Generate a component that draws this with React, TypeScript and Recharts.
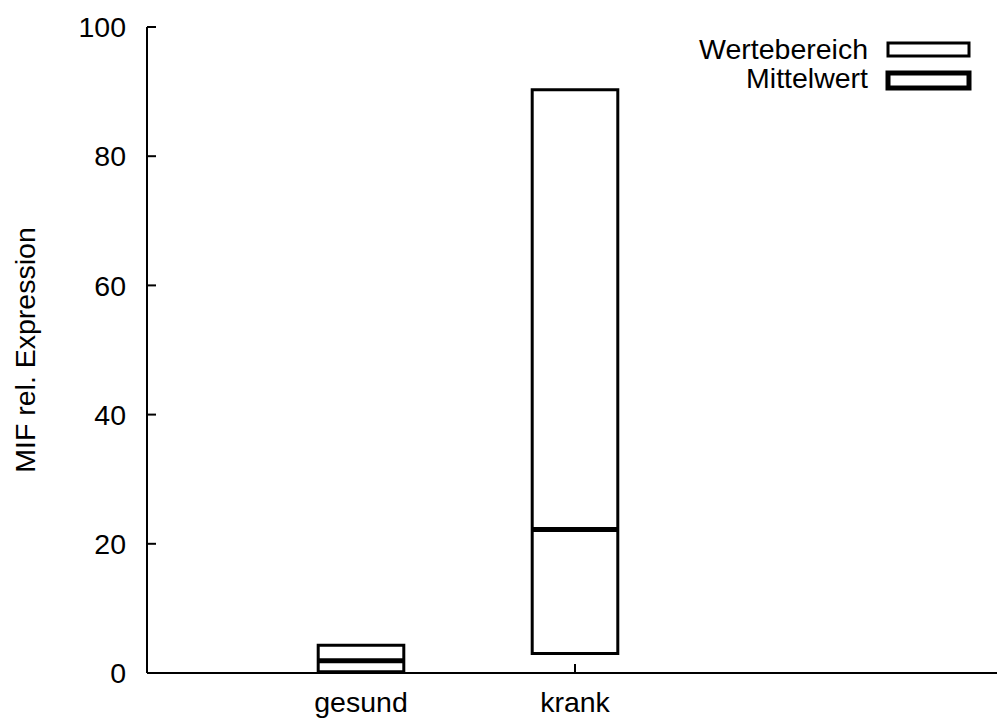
import React from 'react';
import { ComposedChart, XAxis, YAxis, ReferenceArea, ReferenceLine } from 'recharts';

const categories = ['gesund', 'krank'];
const positions = [1, 2];
const rangeMin = [0.2, 3.0];
const rangeMax = [4.3, 90.3];
const meanValues = [1.9, 22.2];
const yTicks = [0, 20, 40, 60, 80, 100];
const xDomain = [0, 4];
const boxHalfWidth = 0.2;
const legendLabels = ['Wertebereich', 'Mittelwert'];
const yLabel = 'MIF rel. Expression';

const rows = categories.map((name, i) => ({
  name,
  pos: positions[i],
  min: rangeMin[i],
  max: rangeMax[i],
  mean: meanValues[i],
}));

const FONT = '"Liberation Sans", Arial, Helvetica, sans-serif';
const FS = 28.5;
const axisLine = { stroke: '#000', strokeWidth: 2 };
const tickLine = { stroke: '#000', strokeWidth: 2 };
const tickText = { fill: '#000', fontSize: FS, fontFamily: FONT };

export default function App() {
  const extraArea: any = { zIndex: 900 };
  const extraLine: any = { zIndex: 950 };
  return (
    <div style={{ position: 'absolute', left: 0, top: 0, width: 997, height: 718, overflow: 'hidden', background: '#fff' }}>
      <ComposedChart
        width={1010}
        height={718}
        data={rows}
        margin={{ top: 27, right: 7, bottom: 0, left: 0 }}
      >
        <XAxis
          dataKey="pos"
          type="number"
          domain={xDomain}
          ticks={positions}
          interval={0}
          tickFormatter={(v: number) => categories[positions.indexOf(v)] ?? ''}
          height={45}
          tickSize={-9}
          tickMargin={28}
          axisLine={axisLine}
          tickLine={tickLine}
          tick={tickText}
          allowDataOverflow
        />
        <XAxis
          xAxisId="top"
          orientation="top"
          dataKey="pos"
          type="number"
          domain={xDomain}
          ticks={positions}
          interval={0}
          height={0}
          tickSize={-9}
          axisLine={axisLine}
          tickLine={tickLine}
          tick={false}
          allowDataOverflow
        />
        <YAxis
          type="number"
          domain={[0, 100]}
          ticks={yTicks}
          interval={0}
          width={147}
          tickSize={-9}
          tickMargin={30}
          axisLine={axisLine}
          tickLine={tickLine}
          tick={tickText}
          allowDataOverflow
          label={{
            value: yLabel,
            angle: -90,
            position: 'insideLeft',
            offset: 25,
            style: { textAnchor: 'middle', fill: '#000', fontSize: FS, fontFamily: FONT },
          }}
        />
        <YAxis
          yAxisId="right"
          orientation="right"
          type="number"
          domain={[0, 100]}
          ticks={yTicks}
          interval={0}
          width={0}
          tickSize={-9}
          axisLine={axisLine}
          tickLine={tickLine}
          tick={false}
          allowDataOverflow
        />
        {rows.map((r) => (
          <ReferenceArea
            key={'box-' + r.name}
            x1={r.pos - boxHalfWidth}
            x2={r.pos + boxHalfWidth}
            y1={r.min}
            y2={r.max}
            fill="#fff"
            fillOpacity={1}
            stroke="#000"
            strokeWidth={3}
            ifOverflow="visible"
            {...extraArea}
          />
        ))}
        {rows.map((r) => (
          <ReferenceLine
            key={'mean-' + r.name}
            segment={[
              { x: r.pos - boxHalfWidth, y: r.mean },
              { x: r.pos + boxHalfWidth, y: r.mean },
            ]}
            stroke="#000"
            strokeWidth={5}
            ifOverflow="visible"
            {...extraLine}
          />
        ))}
      </ComposedChart>
      <svg
        width={997}
        height={718}
        style={{ position: 'absolute', left: 0, top: 0, pointerEvents: 'none' }}
      >
        <text x={868} y={59} textAnchor="end" fontSize={FS} fontFamily={FONT} fill="#000">
          {legendLabels[0]}
        </text>
        <rect x={888} y={43} width={81} height={13} fill="#fff" stroke="#000" strokeWidth={3} />
        <text x={868} y={88} textAnchor="end" fontSize={FS} fontFamily={FONT} fill="#000">
          {legendLabels[1]}
        </text>
        <rect x={888} y={73} width={81} height={15} fill="#fff" stroke="#000" strokeWidth={5} />
      </svg>
    </div>
  );
}
